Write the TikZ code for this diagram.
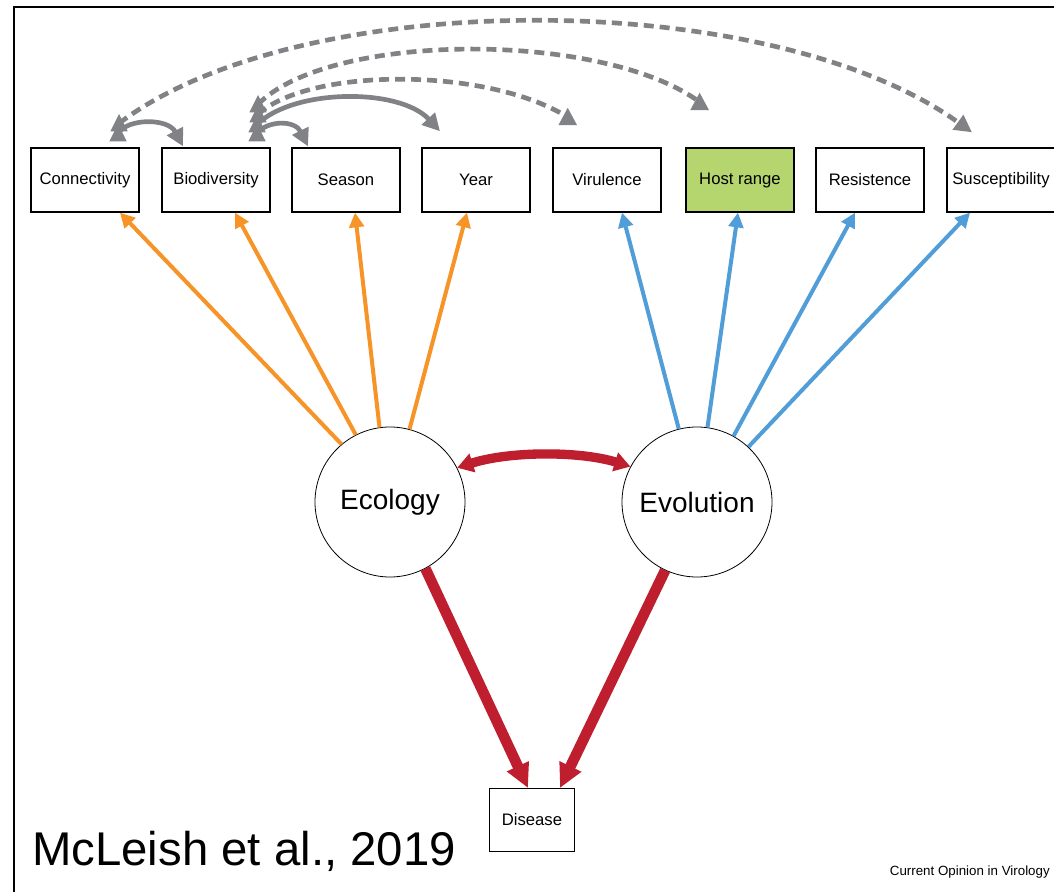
\documentclass[tikz,border=0pt]{standalone}
\usepackage{fontspec}
\setmainfont{Liberation Sans}
\usetikzlibrary{arrows.meta,calc,decorations.markings}
\definecolor{oran}{RGB}{247,148,40}
\definecolor{blu}{RGB}{80,157,215}
\definecolor{rd}{RGB}{190,30,45}
\definecolor{gry}{RGB}{128,130,133}
\definecolor{hostgreen}{RGB}{181,213,110}
\begin{document}
\begin{tikzpicture}[x=0.75pt,y=-0.75pt,
  box/.style={draw,line width=1pt,minimum width=81pt,minimum height=48pt,inner sep=0pt,font=\fontsize{12.5}{14}\selectfont},
  circ/.style={draw,circle,line width=0.6pt,minimum size=112.5pt,inner sep=0pt,font=\fontsize{21}{24}\selectfont},
  oarr/.style={draw=oran,line width=3pt,-{Triangle[length=11pt,width=11pt]}},
  barr/.style={oarr,draw=blu},
  rarr/.style={draw=rd,line width=8pt,-{Triangle[length=18pt,width=17pt]}},
  rdbl/.style={draw=rd,line width=7pt,{Triangle[length=12pt,width=14pt]}-{Triangle[length=12pt,width=14pt]}},
  gline/.style={draw=gry,line width=3.5pt},
  gtip/.style={-{Triangle[length=13pt,width=13pt]}},
  gdash/.style={dash pattern=on 7.5pt off 4.5pt},
  upstart/.style={postaction={decorate,decoration={markings,mark=at position 0 with {\pgftransformresetnontranslations\fill[gry] (-6.5pt,-6pt) -- (6.5pt,-6pt) -- (0pt,7pt) -- cycle;}}}},
  upend/.style={postaction={decorate,decoration={markings,mark=at position 0.999 with {\pgftransformresetnontranslations\fill[gry] (-7pt,-6pt) -- (7pt,-6pt) -- (0pt,7pt) -- cycle;}}}},
]
\useasboundingbox (0,0) rectangle (1054,892);
\fill[white] (0,0) rectangle (1054,892);
\draw[line width=1pt] (14,892) -- (14,7) -- (1054,7);

\node[box] (con) at (85,180) {Connectivity};
\node[box] (bio) at (216,180) {Biodiversity};
\node[box] (sea) at (346,180) {Season};
\node[box] (yea) at (476,180) {Year};
\node[box] (vir) at (607,180) {Virulence};
\node[box,fill=hostgreen] (hos) at (740,180) {Host range};
\node[box] (res) at (870,180) {Resistence};
\node[box] (sus) at (1001,180) {Susceptibility};
\node[circ] (eco) at (390,502) {Ecology};
\node[circ] (evo) at (697,502) {Evolution};
\node[box,minimum width=64pt,minimum height=47pt] (dis) at (532,820) {Disease};

% orange
\draw[oarr] (eco.130) -- ($(con.south)+(35,0)$);
\draw[oarr] (eco.117) -- ($(bio.south)+(19,0)$);
\draw[oarr] (eco.98) -- ($(sea.south)+(9,0)$);
\draw[oarr] (eco.75) -- ($(yea.south)+(-9,0)$);
% blue
\draw[barr] (evo.104) -- ($(vir.south)+(15,0)$);
\draw[barr] (evo.82) -- ($(hos.south)+(-2,0)$);
\draw[barr] (evo.61) -- ($(res.south)+(-15,0)$);
\draw[barr] (evo.47) -- ($(sus.south)+(-31,0)$);
% red
\draw[rarr] (eco.-62) -- ($(dis.north)+(-4,0)$);
\draw[rarr] (evo.-115) -- ($(dis.north)+(28,0)$);
\draw[rdbl] (eco.27) .. controls (510,451) and (580,451) .. (evo.152);

% gray
\draw[gline,gtip,upstart] ($(con.north)+(33,-14)$) .. controls (128,118) and (168,118) .. ($(bio.north)+(-33,-1)$);
\draw[gline,gdash,gtip,upstart] ($(con.north)+(34,-24)$) .. controls (300,-14) and (769,-14) .. ($(sus.north)+(-29,-15)$);
\draw[gline,gtip,upstart] ($(bio.north)+(41,-14)$) .. controls (268,120) and (295,120) .. ($(sea.north)+(-38,-1)$);
\draw[gline,gtip,upstart] ($(bio.north)+(41,-23)$) .. controls (295,88) and (400,88) .. ($(yea.north)+(-36,-16)$);
\draw[gline,gdash,upstart,upend] ($(bio.north)+(42,-33)$) .. controls (310,67) and (488,67) .. ($(vir.north)+(-39,-30)$);
\draw[gline,gdash,upstart,upend] ($(bio.north)+(42,-43)$) .. controls (330,31) and (604,31) .. ($(hos.north)+(-40,-45)$);

\node[anchor=base west,font=\fontsize{35.5}{40}\selectfont,inner sep=0pt] (cite) at (32,865) {McLeish et al., 2019};
\node[anchor=base east,font=\fontsize{10}{12}\selectfont,inner sep=0pt] (src) at (1050,875) {Current Opinion in Virology};
\end{tikzpicture}
\end{document}
